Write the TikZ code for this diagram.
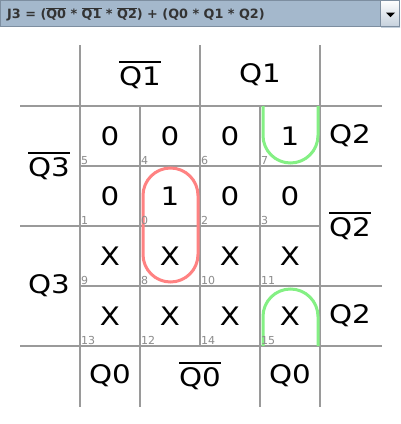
\documentclass[tikz,border=0pt]{standalone}
\usepackage{fontspec}
\setmainfont{DejaVu Sans}
\newfontfamily\cellfont[FakeStretch=1.15]{DejaVu Sans}
\newcommand{\barred}[3]{\leavevmode\vbox{\hrule height #1\kern #2\hbox{#3}}}
\newcommand{\bigbar}[1]{\barred{2.3pt}{4pt}{#1}}
\newcommand{\tbar}[1]{\barred{1pt}{0.4pt}{#1}}
\definecolor{gridgray}{HTML}{9A9A9A}
\definecolor{idxgray}{HTML}{8C8C8C}
\definecolor{loopred}{HTML}{FF8282}
\definecolor{loopgreen}{HTML}{84F084}
\definecolor{barblue}{HTML}{A4B8CC}
\definecolor{barborder}{HTML}{7D8EA0}
\definecolor{titletext}{HTML}{333333}
\definecolor{btnbottom}{HTML}{C4D0DC}
\begin{document}
\begin{tikzpicture}[x=1pt,y=-1pt,
  gridline/.style={draw=gridgray,line width=2pt},
  big/.style={font=\cellfont\fontsize{25.5}{30}\selectfont, inner sep=0pt},
  idx/.style={font=\fontsize{11}{12}\selectfont, text=idxgray, anchor=base west, inner sep=0pt},
  redloop/.style={draw=loopred, line width=3pt},
  greenloop/.style={draw=loopgreen, line width=3pt}]
\useasboundingbox (0,0) rectangle (400,424);
\fill[white] (0,0) rectangle (400,424);
% title bar
\fill[barblue] (0,0) rectangle (381,27);
\draw[barborder, line width=1pt] (0.5,0.5) rectangle (380.5,26.5);
\shade[top color=white, bottom color=btnbottom] (381,0) rectangle (400,27);
\draw[barborder, line width=1pt] (381,0.5) -- (399.5,0.5) -- (399.5,26.5) -- (381,26.5);
\fill[black] (386,12.5) -- (395,12.5) -- (390.5,17) -- cycle;
\node[anchor=base west, inner sep=0pt, font=\bfseries\fontsize{12.8}{14}\selectfont, text=titletext] (title) at (7,18.5)
  {J3 = (\tbar{Q0} * \tbar{Q1} * \tbar{Q2}) + (Q0 * Q1 * Q2)};
% grid
\draw[gridline] (80,45) -- (80,407);
\draw[gridline] (140,106) -- (140,407);
\draw[gridline] (200,45) -- (200,346);
\draw[gridline] (260,106) -- (260,407);
\draw[gridline] (320,45) -- (320,407);
\draw[gridline] (20,106) -- (382,106);
\draw[gridline] (80,166) -- (382,166);
\draw[gridline] (20,226) -- (320,226);
\draw[gridline] (80,286) -- (382,286);
\draw[gridline] (20,346) -- (382,346);
% loops
\draw[redloop, rounded corners=27.5pt] (143,168) rectangle (198,282);
\draw[greenloop] (263,106) -- (263,135.5) arc[start angle=180, end angle=0, radius=27.5] -- (318,106);
\draw[greenloop] (263,346) -- (263,316.5) arc[start angle=180, end angle=360, radius=27.5] -- (318,346);
% cells
\foreach \v/\i [count=\k from 0] in {0/5,0/4,0/6,1/7,0/1,1/0,0/2,0/3,X/9,X/8,X/10,X/11,X/13,X/12,X/14,X/15}{
  \pgfmathtruncatemacro\c{mod(\k,4)}
  \pgfmathtruncatemacro\r{div(\k,4)}
  \node[big] (v\i) at (110+60*\c, 136+60*\r) {\v};
  \node[idx] (i\i) at (81+60*\c, 164.5+60*\r) {\i};
}
% headers
\node[big] (q1n) at (140,75) {\bigbar{Q1}};
\node[big] (q1) at (260,75) {Q1};
\node[big] (q3n) at (49,166) {\bigbar{Q3}};
\node[big] (q3) at (49,286) {Q3};
\node[big] (q2a) at (350,136) {Q2};
\node[big] (q2n) at (350,226) {\bigbar{Q2}};
\node[big] (q2b) at (350,316) {Q2};
\node[big] (q0a) at (110,376) {Q0};
\node[big] (q0n) at (200,376) {\bigbar{Q0}};
\node[big] (q0b) at (290,376) {Q0};
\end{tikzpicture}
\end{document}
